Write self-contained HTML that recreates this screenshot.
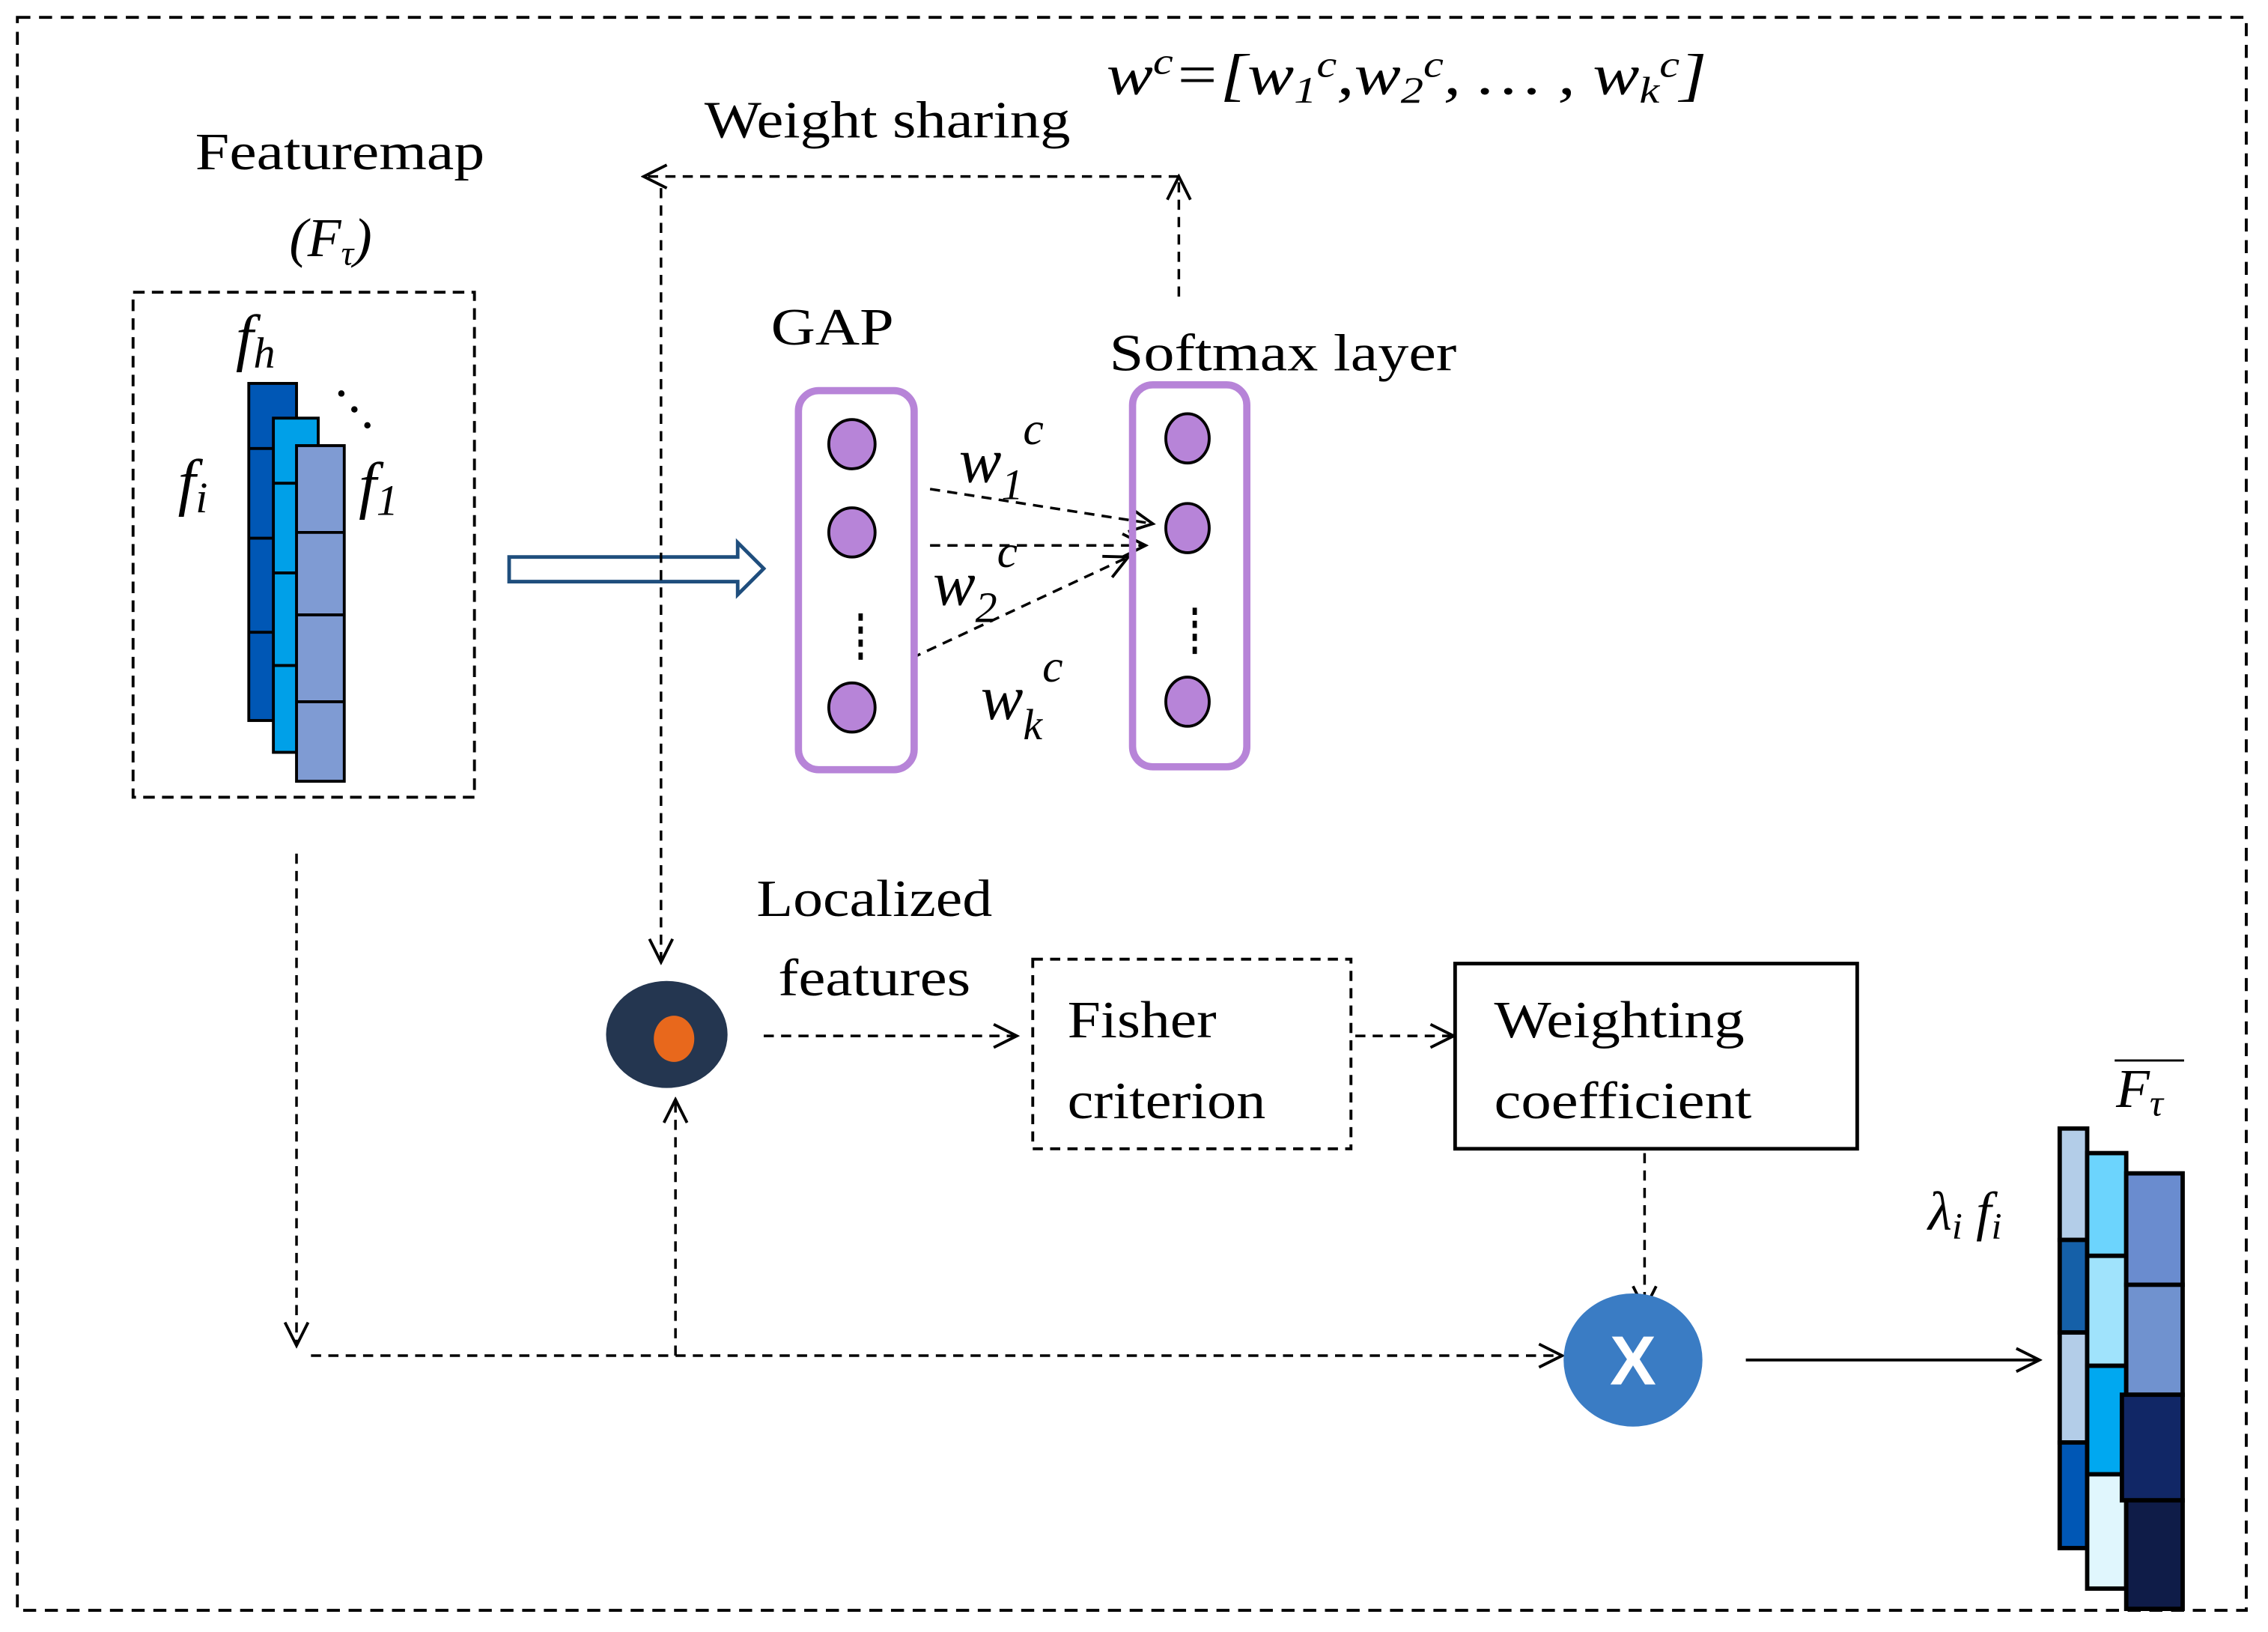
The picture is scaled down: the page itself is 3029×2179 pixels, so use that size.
<!DOCTYPE html>
<html><head><meta charset="utf-8"><style>html,body{margin:0;padding:0;background:#fff}svg{display:block}</style></head><body>
<svg width="3029" height="2179" viewBox="0 0 1568 1128" xmlns="http://www.w3.org/2000/svg" font-family="Liberation Serif, serif">
<defs>
<marker id="ah" viewBox="0 0 20 20" refX="18" refY="10" markerWidth="20" markerHeight="20" markerUnits="userSpaceOnUse" orient="auto"><path d="M2 2 L18 10 L2 18" fill="none" stroke="#000" stroke-width="2"/></marker>
</defs>
<rect x="12" y="12" width="1541" height="1101" fill="none" stroke="#000" stroke-width="2" stroke-dasharray="9,6"/>
<g font-size="36" fill="#000">
<text x="135" y="117" textLength="200" lengthAdjust="spacingAndGlyphs">Featuremap</text>
<text x="200" y="177" font-style="italic" font-size="38">(F<tspan font-size="24" dy="6">τ</tspan><tspan dy="-6">)</tspan></text>
<text x="487" y="95" textLength="253" lengthAdjust="spacingAndGlyphs">Weight  sharing</text>
<text x="765" y="65" font-style="italic" font-size="40" textLength="415" lengthAdjust="spacingAndGlyphs">w<tspan font-size="26" dy="-14">c</tspan><tspan dy="14">=[w</tspan><tspan font-size="26" dy="6">1</tspan><tspan font-size="26" dy="-18">c</tspan><tspan dy="12">,w</tspan><tspan font-size="26" dy="6">2</tspan><tspan font-size="26" dy="-18">c</tspan><tspan dy="12">, … , w</tspan><tspan font-size="26" dy="6">k</tspan><tspan font-size="26" dy="-18">c</tspan><tspan dy="12">]</tspan></text>
<text x="533" y="238" textLength="85" lengthAdjust="spacingAndGlyphs">GAP</text>
<text x="767" y="256" textLength="240" lengthAdjust="spacingAndGlyphs">Softmax  layer</text>
<text x="523" y="633" textLength="163" lengthAdjust="spacingAndGlyphs">Localized</text>
<text x="538" y="688" textLength="133" lengthAdjust="spacingAndGlyphs">features</text>
<text x="738" y="717" textLength="103" lengthAdjust="spacingAndGlyphs">Fisher</text>
<text x="738" y="773" textLength="137" lengthAdjust="spacingAndGlyphs">criterion</text>
<text x="1033" y="717" textLength="173" lengthAdjust="spacingAndGlyphs">Weighting</text>
<text x="1033" y="773" textLength="178" lengthAdjust="spacingAndGlyphs">coefficient</text>
<g font-style="italic" font-size="44">
<text x="163" y="248">f<tspan font-size="30" dy="6">h</tspan></text>
<text x="123" y="348">f<tspan font-size="30" dy="6">i</tspan></text>
<text x="248" y="350">f<tspan font-size="30" dy="6">1</tspan></text>
<text x="663" y="333">w<tspan font-size="30" dy="12">1</tspan><tspan font-size="32" dy="-38">c</tspan></text>
<text x="645" y="418">w<tspan font-size="30" dy="12">2</tspan><tspan font-size="32" dy="-38">c</tspan></text>
<text x="678" y="497">w<tspan font-size="30" dy="14">k</tspan><tspan font-size="32" dy="-40">c</tspan></text>
<text x="1333" y="850" font-size="38">λ<tspan font-size="26" dy="6">i</tspan><tspan dy="-6"> f</tspan><tspan font-size="26" dy="6">i</tspan></text>
<text x="1463" y="765" font-size="38">F<tspan font-size="26" dy="6">τ</tspan></text>
</g>
</g>
<path d="M1462 733 H1510" stroke="#000" stroke-width="1.5"/>
<rect x="92" y="202" width="236" height="349" fill="none" stroke="#000" stroke-width="2" stroke-dasharray="8,5"/>
<g stroke="#000" stroke-width="2">
<rect x="172" y="265" width="33" height="233" fill="#0057b5"/>
<path d="M172 310H190M172 372H190M172 437H190"/>
<rect x="189" y="289" width="31" height="231" fill="#00a0e8"/>
<path d="M189 334H206M189 396H206M189 460H206"/>
<rect x="205" y="308" width="33" height="232" fill="#7f9bd3"/>
<path d="M205 368H238M205 425H238M205 485H238"/>
</g>
<g fill="#000"><circle cx="236" cy="272" r="2.2"/><circle cx="245" cy="283" r="2.2"/><circle cx="254" cy="294" r="2.2"/></g>
<path d="M352 385 H510 V375 L528 393 L510 411 V402 H352 Z" fill="#fff" stroke="#1f4e7d" stroke-width="2.5"/>
<g fill="none" stroke="#000" stroke-width="1.8" stroke-dasharray="7,5">
<path d="M457 130 V665" marker-end="url(#ah)"/>
<path d="M815 122 H445" marker-end="url(#ah)"/>
<path d="M815 205 V122" marker-end="url(#ah)"/>
<path d="M643 338 L797 362" marker-end="url(#ah)"/>
<path d="M643 377 L792 377" marker-end="url(#ah)"/>
<path d="M630 455 L780 385" marker-end="url(#ah)"/>
<path d="M528 716 H703" marker-end="url(#ah)"/>
<path d="M937 716 H1005" marker-end="url(#ah)"/>
<path d="M1137 797 V905" marker-end="url(#ah)"/>
<path d="M205 590 V930" marker-end="url(#ah)"/>
<path d="M215 937 H1080" marker-end="url(#ah)"/>
<path d="M467 937 V760" marker-end="url(#ah)"/>
</g>
<path d="M1207 940 H1410" stroke="#000" stroke-width="2" fill="none" marker-end="url(#ah)"/>
<rect x="552" y="270" width="80" height="262" rx="14" fill="none" stroke="#b784d8" stroke-width="5"/>
<rect x="783" y="266" width="79" height="264" rx="14" fill="none" stroke="#b784d8" stroke-width="5"/>
<g fill="#b784d8" stroke="#000" stroke-width="2">
<ellipse cx="589" cy="307" rx="16" ry="17"/><ellipse cx="589" cy="368" rx="16" ry="17"/><ellipse cx="589" cy="489" rx="16" ry="17"/>
<ellipse cx="821" cy="303" rx="15" ry="17"/><ellipse cx="821" cy="365" rx="15" ry="17"/><ellipse cx="821" cy="485" rx="15" ry="17"/>
</g>
<g stroke="#000" stroke-width="3" stroke-dasharray="5,4"><path d="M595 424 V458"/><path d="M826 420 V454"/></g>
<ellipse cx="461" cy="715" rx="42" ry="37" fill="#243650"/>
<ellipse cx="466" cy="718" rx="14" ry="16" fill="#e8681c"/>
<rect x="714" y="663" width="220" height="131" fill="none" stroke="#000" stroke-width="2" stroke-dasharray="7,5"/>
<rect x="1006" y="666" width="278" height="128" fill="none" stroke="#000" stroke-width="2.5"/>
<ellipse cx="1129" cy="940" rx="48" ry="46" fill="#3a7cc4"/>
<text x="1129" y="957" font-family="Liberation Sans, sans-serif" font-weight="bold" font-size="48" fill="#fff" text-anchor="middle">X</text>
<g stroke="#000" stroke-width="3">
<rect x="1424" y="780" width="19" height="77" fill="#b3cde8"/>
<rect x="1424" y="857" width="19" height="64" fill="#1560a8"/>
<rect x="1424" y="921" width="19" height="76" fill="#b3cde8"/>
<rect x="1424" y="997" width="19" height="73" fill="#0057b5"/>
<rect x="1443" y="797" width="27" height="71" fill="#6cd4fd"/>
<rect x="1443" y="868" width="27" height="76" fill="#a0e3fc"/>
<rect x="1443" y="944" width="27" height="75" fill="#00a8f0"/>
<rect x="1443" y="1019" width="27" height="79" fill="#e0f6fd"/>
<rect x="1470" y="811" width="39" height="77" fill="#6a8ccf"/>
<rect x="1470" y="888" width="39" height="76" fill="#7092cf"/>
<rect x="1467" y="964" width="42" height="73" fill="#112766"/>
<rect x="1470" y="1037" width="39" height="75" fill="#0f1c48"/>
</g>
</svg>
</body></html>
